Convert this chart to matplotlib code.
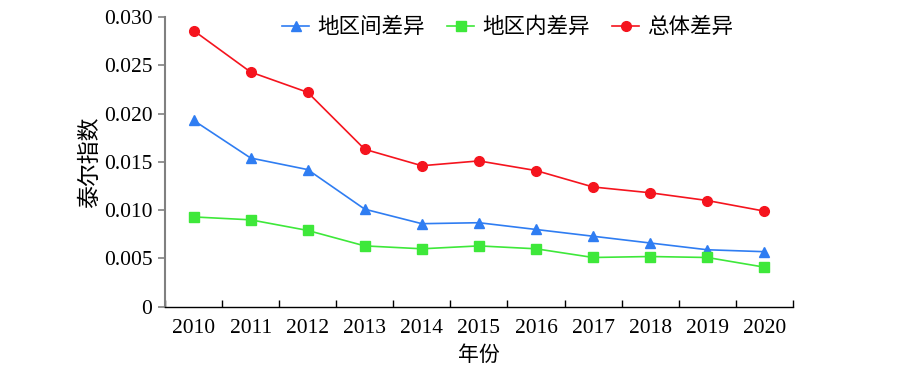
import numpy as np
import matplotlib
matplotlib.use("Agg")
import matplotlib.pyplot as plt
from matplotlib.ticker import FuncFormatter, FixedLocator

plt.rcParams['font.family'] = ['Liberation Serif', 'Noto Sans CJK SC']

years = ["2010", "2011", "2012", "2013", "2014", "2015", "2016", "2017", "2018", "2019", "2020"]
between = [0.0193, 0.0154, 0.0142, 0.0101, 0.0086, 0.0087, 0.0080, 0.0073, 0.0066, 0.0059, 0.0057]
within = [0.0093, 0.0090, 0.0079, 0.0063, 0.0060, 0.0063, 0.0060, 0.0051, 0.0052, 0.0051, 0.0041]
total = [0.0286, 0.0243, 0.0222, 0.0163, 0.0146, 0.0151, 0.0141, 0.0124, 0.0118, 0.0110, 0.0099]
series_names = ["地区间差异", "地区内差异", "总体差异"]

fig = plt.figure(figsize=(9.1, 3.82), dpi=100)
ax = fig.add_axes([0.1813, 0.197, 0.690, 0.7585])

x = np.arange(len(years))
ax.plot(x, between, color="#2f7df2", lw=1.2, marker="^", ms=6.5, label=series_names[0])
ax.plot(x, within, color="#3ee83a", lw=1.2, marker="s", ms=6.5, label=series_names[1])
ax.plot(x, total, color="#f5141e", lw=1.2, marker="o", ms=7, label=series_names[2])

ax.set_xlim(-0.5, len(years) - 0.5)
ax.set_ylim(0, 0.030)
ax.set_yticks(np.arange(0, 0.0301, 0.005))
ax.yaxis.set_major_formatter(FuncFormatter(lambda v, p: "0" if v == 0 else "%.3f" % v))

# category axis: labels centred, ticks on boundaries
ax.xaxis.set_major_locator(FixedLocator(np.arange(-0.5, len(years))))
ax.xaxis.set_major_formatter(FuncFormatter(lambda v, p: ""))
ax.set_xticks(x, minor=True)
ax.set_xticklabels(years, minor=True)
ax.tick_params(axis="x", which="major", direction="in", length=5, width=1, color="black")
ax.tick_params(axis="x", which="minor", length=0, pad=9, labelsize=15.5)
ax.tick_params(axis="y", direction="out", length=5, width=1.2, color="#808080", labelsize=15.5, pad=4)

for s in ["top", "right"]:
    ax.spines[s].set_visible(False)
ax.spines["left"].set_color("#808080")
ax.spines["left"].set_linewidth(1.5)
ax.spines["bottom"].set_color("black")
ax.spines["bottom"].set_linewidth(1.0)

ax.set_xlabel("年份", fontsize=15, labelpad=6)
ax.set_ylabel("泰尔指数", fontsize=16.5, labelpad=2)

ax.legend(loc="center", bbox_to_anchor=(0.5456, 0.962), ncol=3, frameon=False,
          fontsize=15.5, handlelength=1.25, columnspacing=1.05, handletextpad=0.37,
          borderpad=0, borderaxespad=0)

fig.savefig("out.png", dpi=100)
